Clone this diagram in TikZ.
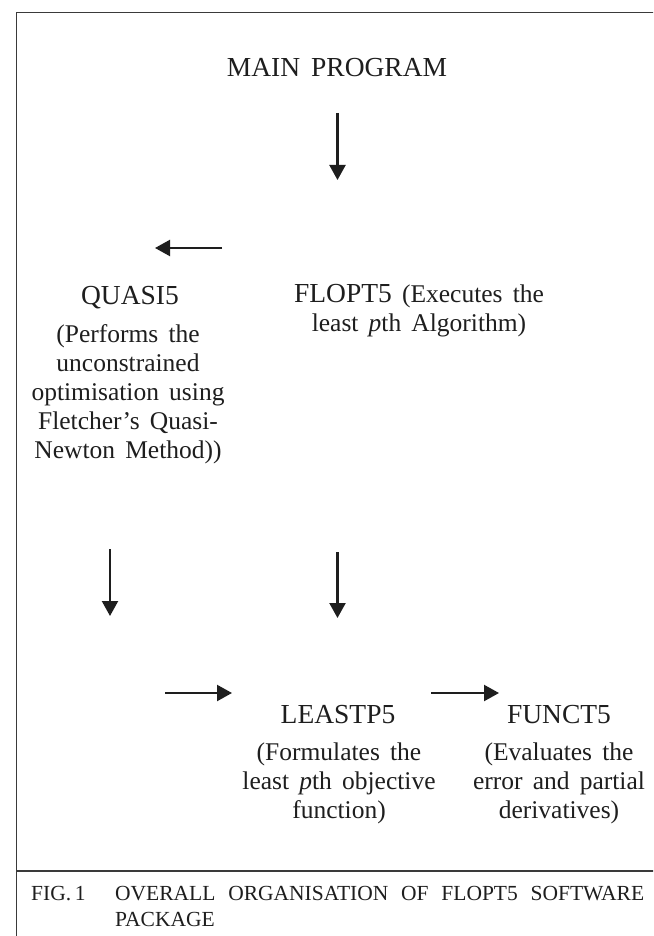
\documentclass[tikz,border=0pt]{standalone}
\usepackage{fontspec}
\setmainfont{Liberation Serif}[WordSpace=1.6]
\usetikzlibrary{arrows.meta}
\definecolor{ink}{HTML}{1E1E1E}
\definecolor{rulecol}{HTML}{3A3A3A}
\newcommand{\headfont}{\fontsize{27.5}{29}\selectfont}
\newcommand{\bodyfont}{\fontsize{25.5}{29}\selectfont}
\begin{document}
\begin{tikzpicture}[x=1pt,y=-1pt,
  head/.style={font=\headfont, inner sep=0pt, anchor=base, align=center, text=ink},
  lbl/.style={font=\bodyfont, inner sep=0pt, anchor=base, align=center, text=ink},
  captext/.style={font=\fontsize{21.5}{27}\selectfont, inner sep=0pt, anchor=base west, text=ink, align=left},
  flow/.style={line width=2.2pt, draw=ink, -{Triangle[width=16pt,length=15pt]}},
  framebox/.style={line width=1.3pt, draw=rulecol}
]
\useasboundingbox (0,0) rectangle (653,936);
\clip (0,0) rectangle (653,936);
\fill[white] (0,0) rectangle (653,936);
\draw[framebox] (16.7,12.5) rectangle (720,1000);
\draw[framebox] (16.7,871) -- (720,871);

% base anchor of a multi-line node = baseline of its last line
\node[head] (main) at (337,77) {MAIN PROGRAM};
\node[head] (quasi) at (130,304) {QUASI5};
\node[lbl] (quasid) at (128,458) {(Performs the\\unconstrained\\optimisation using\\Fletcher’s Quasi-\\Newton Method))};
\node[lbl] (flopt) at (419,331) {{\headfont FLOPT5} (Executes the\\least \textit{p}th Algorithm)};
\node[head] (leastp) at (338,723) {LEASTP5};
\node[lbl] (leastpd) at (339,818) {(Formulates the\\least \textit{p}th objective\\function)};
\node[head] (funct) at (559,723) {FUNCT5};
\node[lbl] (functd) at (559,818) {(Evaluates the\\error and partial\\derivatives)};

\node[captext] (fig) at (31,900) {FIG.\,1};
\node[captext] (capt) at (115,900) {\makebox[529pt][s]{OVERALL ORGANISATION OF FLOPT5 SOFTWARE}};
\node[captext] (capt2) at (115,926) {PACKAGE};

\coordinate (a1s) at (337.5,113); \coordinate (a1e) at (337.5,180);
\coordinate (a2s) at (222,248);   \coordinate (a2e) at (155,248);
\coordinate (a3s) at (110,549);   \coordinate (a3e) at (110,616);
\coordinate (a4s) at (337.5,552); \coordinate (a4e) at (337.5,618);
\coordinate (a5s) at (165,693);   \coordinate (a5e) at (232,693);
\coordinate (a6s) at (431,693);   \coordinate (a6e) at (499,693);
\draw[flow] (a1s) -- (a1e);
\draw[flow] (a2s) -- (a2e);
\draw[flow] (a3s) -- (a3e);
\draw[flow] (a4s) -- (a4e);
\draw[flow] (a5s) -- (a5e);
\draw[flow] (a6s) -- (a6e);
\end{tikzpicture}
\end{document}
